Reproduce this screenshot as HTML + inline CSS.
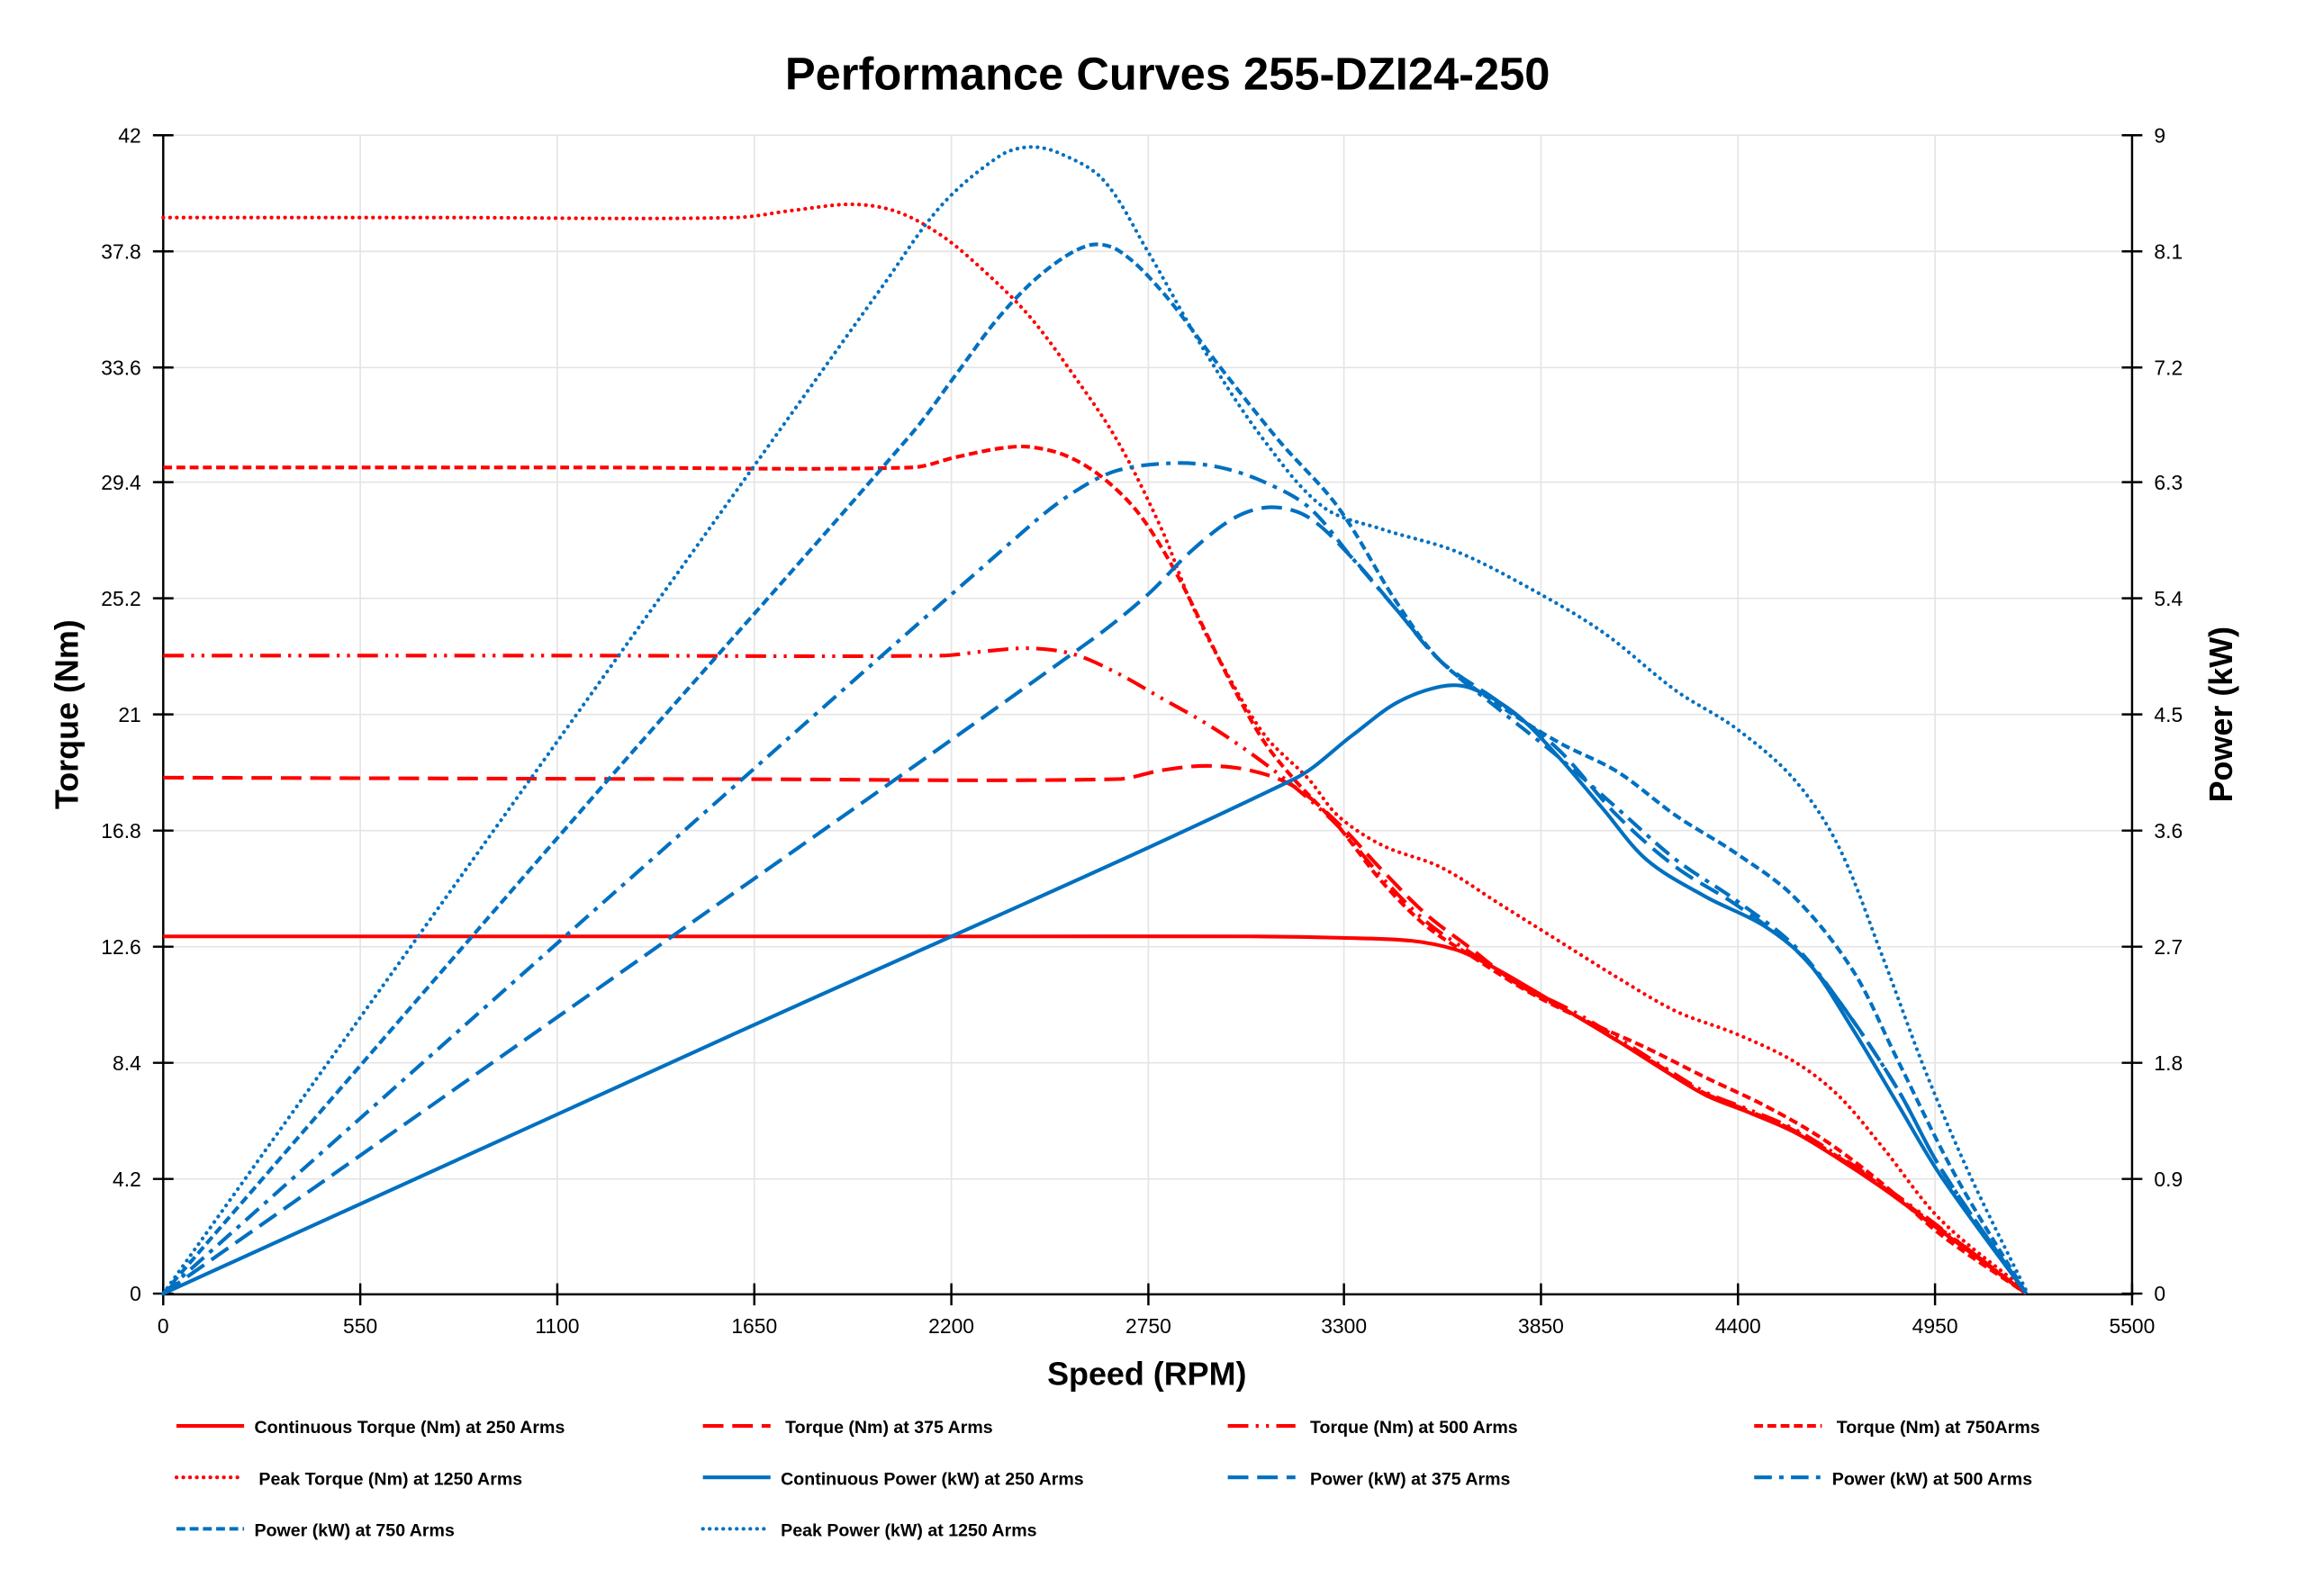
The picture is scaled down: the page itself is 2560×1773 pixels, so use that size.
<!DOCTYPE html>
<html><head><meta charset="utf-8"><style>
html,body{margin:0;padding:0;background:#fff;}
svg{display:block;}
text{font-family:"Liberation Sans",sans-serif;}
</style></head><body>
<svg width="2560" height="1773" viewBox="0 0 1567.6 1085.7" xmlns="http://www.w3.org/2000/svg">
<rect width="1567.6" height="1085.7" fill="#fff"/>
<text x="794" y="61" text-anchor="middle" font-size="31" font-weight="bold">Performance Curves 255-DZI24-250</text>
<g stroke="#e4e4e4" stroke-width="1">
<line x1="111" y1="92" x2="1450" y2="92"/><line x1="111" y1="171" x2="1450" y2="171"/><line x1="111" y1="250" x2="1450" y2="250"/><line x1="111" y1="328" x2="1450" y2="328"/><line x1="111" y1="407" x2="1450" y2="407"/><line x1="111" y1="486" x2="1450" y2="486"/><line x1="111" y1="565" x2="1450" y2="565"/><line x1="111" y1="644" x2="1450" y2="644"/><line x1="111" y1="723" x2="1450" y2="723"/><line x1="111" y1="802" x2="1450" y2="802"/>
<line x1="245" y1="92" x2="245" y2="880"/><line x1="379" y1="92" x2="379" y2="880"/><line x1="513" y1="92" x2="513" y2="880"/><line x1="647" y1="92" x2="647" y2="880"/><line x1="781" y1="92" x2="781" y2="880"/><line x1="914" y1="92" x2="914" y2="880"/><line x1="1048" y1="92" x2="1048" y2="880"/><line x1="1182" y1="92" x2="1182" y2="880"/><line x1="1316" y1="92" x2="1316" y2="880"/>
</g>
<g stroke="#000" stroke-width="1.5" fill="none">
<line x1="111" y1="92" x2="111" y2="881"/><line x1="1450" y1="92" x2="1450" y2="881"/><line x1="110" y1="880.5" x2="1451" y2="880.5"/>
<path d="M104 92H118M104 171H118M104 250H118M104 328H118M104 407H118M104 486H118M104 565H118M104 644H118M104 723H118M104 802H118M104 880H118"/>
<path d="M1443 92H1457M1443 171H1457M1443 250H1457M1443 328H1457M1443 407H1457M1443 486H1457M1443 565H1457M1443 644H1457M1443 723H1457M1443 802H1457M1443 880H1457"/>
<path d="M111 873V888M245 873V888M379 873V888M513 873V888M647 873V888M781 873V888M914 873V888M1048 873V888M1182 873V888M1316 873V888M1450 873V888"/>
</g>
<g font-size="14" text-anchor="end">
<text x="96" y="97">42</text><text x="96" y="176">37.8</text><text x="96" y="255">33.6</text><text x="96" y="333">29.4</text><text x="96" y="412">25.2</text><text x="96" y="491">21</text><text x="96" y="570">16.8</text><text x="96" y="649">12.6</text><text x="96" y="728">8.4</text><text x="96" y="807">4.2</text><text x="96" y="885">0</text>
</g>
<g font-size="14">
<text x="1465" y="97">9</text><text x="1465" y="176">8.1</text><text x="1465" y="255">7.2</text><text x="1465" y="333">6.3</text><text x="1465" y="412">5.4</text><text x="1465" y="491">4.5</text><text x="1465" y="570">3.6</text><text x="1465" y="649">2.7</text><text x="1465" y="728">1.8</text><text x="1465" y="807">0.9</text><text x="1465" y="885">0</text>
</g>
<g font-size="14" text-anchor="middle">
<text x="111" y="907">0</text><text x="245" y="907">550</text><text x="379" y="907">1100</text><text x="513" y="907">1650</text><text x="647" y="907">2200</text><text x="781" y="907">2750</text><text x="914" y="907">3300</text><text x="1048" y="907">3850</text><text x="1182" y="907">4400</text><text x="1316" y="907">4950</text><text x="1450" y="907">5500</text>
</g>
<text x="780" y="942" text-anchor="middle" font-size="22" font-weight="bold">Speed (RPM)</text>
<text transform="translate(53,486) rotate(-90)" text-anchor="middle" font-size="22" font-weight="bold">Torque (Nm)</text>
<text transform="translate(1518,486) rotate(-90)" text-anchor="middle" font-size="22" font-weight="bold">Power (kW)</text>

<g id="curves" fill="none" stroke-width="2.5" stroke-linejoin="round">
<polyline stroke="#ff0000" points="111,637 500,637 700,637 850,637 913,638 960,640 990,646 1010,655 1040,672 1070,690 1100,708 1130,727 1160,745 1190,757 1220,770 1250,788 1280,808 1310,830 1340,852 1378,880"/>
<polyline stroke="#ff0000" stroke-dasharray="14,6" points="111,529 500,530 760,530 790,524 820,521 850,524 880,535 910,560 940,592 970,622 1000,645 1030,668 1070,690 1100,708 1130,726 1160,744 1190,756 1220,769 1250,787 1280,807 1310,829 1340,851 1378,880"/>
<polyline stroke="#ff0000" stroke-dasharray="14,5,2,5,2,5" points="111,446 400,446 640,446 670,443 700,441 730,445 760,458 790,475 820,492 850,512 880,535 910,562 940,597 970,627 1000,648 1030,668 1070,688 1100,706 1130,725 1160,743 1190,755 1220,768 1250,786 1280,806 1310,828 1340,851 1378,880"/>
<polyline stroke="#ff0000" stroke-dasharray="6,3" points="111,318 400,318 620,318 650,311 680,305 700,304 725,310 750,325 775,350 800,390 820,430 840,470 860,505 880,530 910,562 940,600 970,630 1000,650 1040,675 1080,695 1120,713 1160,733 1200,752 1240,775 1280,805 1320,840 1378,880"/>
<polyline stroke="#ff0000" stroke-dasharray="0.1,4.5" stroke-linecap="round" points="111,148 300,148 500,148 540,143 580,139 610,144 640,160 670,185 700,215 730,255 760,300 790,360 810,410 830,450 860,500 890,530 910,555 940,575 980,590 1020,615 1060,640 1100,665 1140,688 1180,703 1220,722 1250,745 1280,780 1320,830 1378,878"/>
<polyline stroke="#0070c0" points="111,880 500,703 880,530 920,500 950,478 980,467 1000,468 1030,485 1060,515 1090,550 1120,585 1160,610 1200,630 1230,655 1260,700 1290,750 1320,800 1378,880"/>
<polyline stroke="#0070c0" stroke-dasharray="14,6" points="111,880 450,642 740,437 780,405 810,375 840,352 865,345 890,352 920,380 950,415 980,450 1020,478 1060,510 1100,555 1140,590 1180,615 1220,645 1250,680 1290,740 1320,795 1378,880"/>
<polyline stroke="#0070c0" stroke-dasharray="12,5,3,5" points="111,880 400,623 700,358 730,335 760,320 800,315 830,318 860,328 890,345 920,380 950,415 980,450 1020,483 1060,515 1100,550 1140,585 1180,612 1220,643 1250,680 1290,740 1320,795 1378,880"/>
<polyline stroke="#0070c0" stroke-dasharray="6,3" points="111,880 400,546 620,295 650,255 680,215 710,185 740,167 760,170 790,198 830,250 870,300 910,345 950,410 980,450 1020,480 1060,505 1100,525 1140,555 1180,580 1220,610 1260,660 1290,720 1330,800 1378,880"/>
<polyline stroke="#0070c0" stroke-dasharray="0.1,4.5" stroke-linecap="round" points="111,880 350,545 550,265 600,195 640,140 680,106 700,100 720,104 750,122 780,170 820,240 860,300 900,345 940,360 990,375 1040,400 1090,430 1140,470 1180,495 1220,530 1250,575 1280,650 1310,730 1340,800 1378,878"/>
</g>

<g fill="none" stroke-width="2.5">
<line x1="120" y1="970" x2="166" y2="970" stroke="#ff0000"/>
<line x1="478" y1="970" x2="524" y2="970" stroke="#ff0000" stroke-dasharray="14,6"/>
<line x1="835" y1="970" x2="881" y2="970" stroke="#ff0000" stroke-dasharray="14,5,2,5,2,5"/>
<line x1="1193" y1="970" x2="1239" y2="970" stroke="#ff0000" stroke-dasharray="6,3"/>
<line x1="120" y1="1005" x2="166" y2="1005" stroke="#ff0000" stroke-dasharray="0.1,4.5" stroke-linecap="round"/>
<line x1="478" y1="1005" x2="524" y2="1005" stroke="#0070c0"/>
<line x1="835" y1="1005" x2="881" y2="1005" stroke="#0070c0" stroke-dasharray="14,6"/>
<line x1="1193" y1="1005" x2="1239" y2="1005" stroke="#0070c0" stroke-dasharray="12,5,3,5"/>
<line x1="120" y1="1040" x2="166" y2="1040" stroke="#0070c0" stroke-dasharray="6,3"/>
<line x1="478" y1="1040" x2="524" y2="1040" stroke="#0070c0" stroke-dasharray="0.1,4.5" stroke-linecap="round"/>
</g>
<g font-size="12" font-weight="bold">
<text x="173" y="975">Continuous Torque (Nm) at 250 Arms</text>
<text x="534" y="975">Torque (Nm) at 375 Arms</text>
<text x="891" y="975">Torque (Nm) at 500 Arms</text>
<text x="1249" y="975">Torque (Nm) at 750Arms</text>
<text x="176" y="1010">Peak Torque (Nm) at 1250  Arms</text>
<text x="531" y="1010">Continuous Power (kW) at 250 Arms</text>
<text x="891" y="1010">Power (kW) at 375 Arms</text>
<text x="1246" y="1010">Power (kW) at 500 Arms</text>
<text x="173" y="1045">Power (kW) at 750 Arms</text>
<text x="531" y="1045">Peak Power (kW) at 1250 Arms</text>
</g>
</svg>
<script>
(function(){
var ns="http://www.w3.org/2000/svg";
function dist(a,b){return Math.sqrt((a[0]-b[0])*(a[0]-b[0])+(a[1]-b[1])*(a[1]-b[1]));}
function tan(p0,p1,p2){var s=dist(p0,p1)+dist(p1,p2);if(s==0)return [0,0];return [(p2[0]-p0[0])/s,(p2[1]-p0[1])/s];}
var pls=document.querySelectorAll("#curves polyline");
for(var k=0;k<pls.length;k++){
 var pl=pls[k];
 var pts=pl.getAttribute("points").trim().split(/\s+/).map(function(s){var a=s.split(",");return [+a[0],+a[1]];});
 var d="M"+pts[0][0]+" "+pts[0][1];
 for(var i=0;i<pts.length-1;i++){
  var p0=pts[i-1]||pts[i],p1=pts[i],p2=pts[i+1],p3=pts[i+2]||p2;
  var L=dist(p1,p2)/3;
  var t1=tan(p0,p1,p2),t2=tan(p1,p2,p3);
  var c1x=p1[0]+t1[0]*L,c1y=p1[1]+t1[1]*L;
  var c2x=p2[0]-t2[0]*L,c2y=p2[1]-t2[1]*L;
  d+=" C"+c1x+" "+c1y+" "+c2x+" "+c2y+" "+p2[0]+" "+p2[1];
 }
 var path=document.createElementNS(ns,"path");
 for(var j=0;j<pl.attributes.length;j++){var at=pl.attributes[j];if(at.name!="points")path.setAttribute(at.name,at.value);}
 path.setAttribute("d",d);
 pl.parentNode.replaceChild(path,pl);
}
})();
</script>
</body></html>
